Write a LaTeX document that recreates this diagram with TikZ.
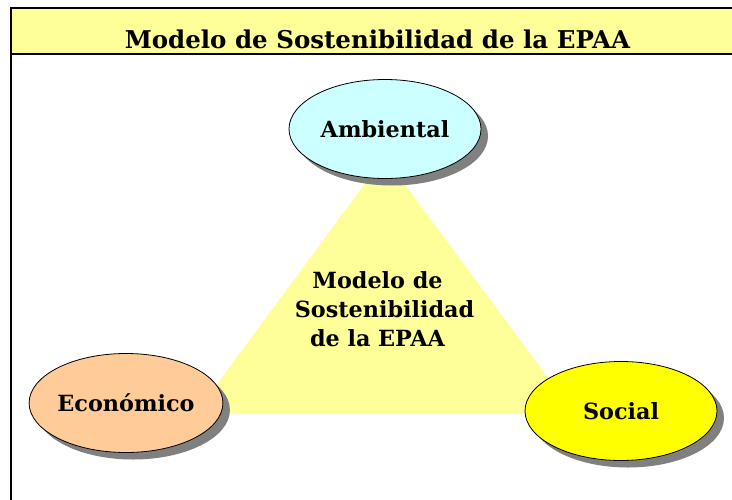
\documentclass[tikz,border=0pt]{standalone}
\usepackage{fontspec}
\setmainfont{DejaVu Serif}
\usetikzlibrary{shapes.geometric,shadows}
\definecolor{paleyellow}{HTML}{FFFF99}
\definecolor{palecyan}{HTML}{CCFFFF}
\definecolor{peach}{HTML}{FFCC99}
\definecolor{brightyellow}{HTML}{FFFF00}
\definecolor{shadowgray}{HTML}{808080}
\begin{document}
\begin{tikzpicture}[x=1pt,y=-1pt,
  oval/.style={ellipse,draw=black,line width=0.8pt,minimum width=192pt,
    minimum height=99pt,inner sep=0pt,
    font=\bfseries\fontsize{22.3}{26}\selectfont,
    drop shadow={shadow xshift=7pt,shadow yshift=-7pt,opacity=1,fill=shadowgray}},
  frameline/.style={line width=2pt,draw=black},
  txt/.style={font=\bfseries\fontsize{22.3}{29}\selectfont}]
\clip (0,0) rectangle (732,499);
\useasboundingbox (0,0) rectangle (732,499);
\fill[white] (0,0) rectangle (732,499);
% title bar
\fill[paleyellow] (11,8) rectangle (740,54);
\draw[frameline] (740,8) -- (11,8) -- (11,510);
\draw[frameline] (11,54) -- (740,54);
\node[font=\bfseries\fontsize{24.5}{28}\selectfont,anchor=base,inner sep=0pt] (title) at (377.5,48) {Modelo de Sostenibilidad de la EPAA};
% triangle
\fill[paleyellow] (384.5,157) -- (575,414) -- (195,414) -- cycle;
\node[txt,align=center] (centre) at (384.5,309) {Modelo de\hspace*{14pt}\\Sostenibilidad\\de la EPAA\hspace*{14pt}};
% ellipses
\node[oval,fill=palecyan] (amb) at (385,129) {Ambiental};
\node[oval,fill=peach] (eco) at (126,403) {Económico};
\node[oval,fill=brightyellow] (soc) at (621,411) {Social};
\end{tikzpicture}
\end{document}
